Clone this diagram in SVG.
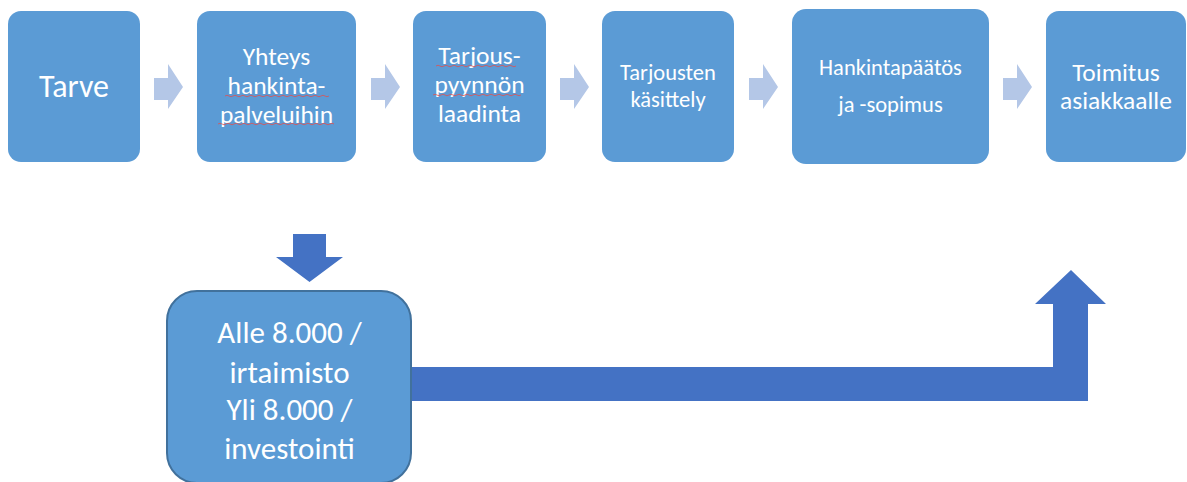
<svg xmlns="http://www.w3.org/2000/svg" width="1187" height="482" viewBox="0 0 1187 482">
<style>
.box{fill:#5b9bd5;}
.la{fill:#b4c7e7;}
.da{fill:#4472c4;}
text{font-family:Carlito,Lato,"Open Sans",sans-serif;fill:#ffffff;text-anchor:middle;}
.sq{fill:none;stroke:#e05050;stroke-width:0.8;}
</style>
<rect width="1187" height="482" fill="#ffffff"/>
<g id="connectors">
<path id="a1" class="la" d="M154,78 H168 V64 L183,87 L168,109 V100 H154 Z"/>
<path id="a2" class="la" d="M371,78 H385 V64 L400,87 L385,109 V100 H371 Z"/>
<path id="a3" class="la" d="M560,78 H574 V64 L589,87 L574,109 V100 H560 Z"/>
<path id="a4" class="la" d="M749,78 H763 V64 L778,87 L763,109 V100 H749 Z"/>
<path id="a5" class="la" d="M1003,78 H1017 V64 L1032,87 L1017,109 V100 H1003 Z"/>
<path id="down" class="da" d="M293,234 H326 V257 H343 L309.5,282 L276,257 H293 Z"/>
<path id="bent" class="da" d="M400,367 H1053 V304 H1035 L1071,270 L1106,304 H1088 V401 H400 Z"/>
</g>
<g id="n1"><rect class="box" x="8" y="11" width="132" height="151" rx="13"/><text x="74" y="97" font-size="32">Tarve</text></g>
<g id="n2"><rect class="box" x="197" y="11" width="159" height="151" rx="13"/>
<text x="276.5" y="65" font-size="25.5">Yhteys</text><text x="276.5" y="94" font-size="25.5">hankinta-</text><text x="276.5" y="123" font-size="25.5">palveluihin</text>
<path class="sq" d="M225,96 q2,-1.5 4,0 t4,0 t4,0 t4,0 t4,0 t4,0 t4,0 t4,0 t4,0 t4,0 t4,0 t4,0 t4,0 t4,0 t4,0 t4,0 t4,0 t4,0 t4,0 t4,0 t4,0 t4,0 t4,0 t4,0 t4,0 t4,0"/>
<path class="sq" d="M218,124 q2,-1.5 4,0 t4,0 t4,0 t4,0 t4,0 t4,0 t4,0 t4,0 t4,0 t4,0 t4,0 t4,0 t4,0 t4,0 t4,0 t4,0 t4,0 t4,0 t4,0 t4,0 t4,0 t4,0 t4,0 t4,0 t4,0 t4,0 t4,0 t4,0 t4,0"/>
</g>
<g id="n3"><rect class="box" x="413" y="11" width="133" height="151" rx="13"/>
<text x="479.5" y="64" font-size="25.5">Tarjous-</text><text x="479.5" y="93" font-size="25.5">pyynnön</text><text x="479.5" y="122" font-size="25.5">laadinta</text>
<path class="sq" d="M436,66 q2,-1.5 4,0 t4,0 t4,0 t4,0 t4,0 t4,0 t4,0 t4,0 t4,0 t4,0 t4,0 t4,0 t4,0 t4,0 t4,0 t4,0 t4,0 t4,0 t4,0 t4,0"/>
<path class="sq" d="M433,95 q2,-1.5 4,0 t4,0 t4,0 t4,0 t4,0 t4,0 t4,0 t4,0 t4,0 t4,0 t4,0 t4,0 t4,0 t4,0 t4,0 t4,0 t4,0 t4,0 t4,0 t4,0 t4,0 t4,0"/>
</g>
<g id="n4"><rect class="box" x="602" y="11" width="132" height="151" rx="13"/>
<text x="668" y="80" font-size="22.5">Tarjousten</text><text x="668" y="107" font-size="22.5">käsittely</text></g>
<g id="n5"><rect class="box" x="792" y="9" width="197" height="155" rx="14"/>
<text x="890.5" y="75" font-size="22.5">Hankintapäätös</text><text x="890.5" y="112" font-size="22.5">ja -sopimus</text></g>
<g id="n6"><rect class="box" x="1046" y="11" width="140" height="151" rx="13"/>
<text x="1116" y="81" font-size="25.5">Toimitus</text><text x="1116" y="109" font-size="25.5">asiakkaalle</text></g>
<g id="n7"><rect x="167" y="291" width="244" height="192" rx="30" fill="#5b9bd5" stroke="#41719c" stroke-width="2"/>
<text x="289.5" y="343" font-size="31">Alle 8.000 /</text><text x="289.5" y="383" font-size="31">irtaimisto</text><text x="289.5" y="420" font-size="31">Yli 8.000 /</text><text x="289.5" y="459" font-size="31">investointi</text></g>
</svg>
